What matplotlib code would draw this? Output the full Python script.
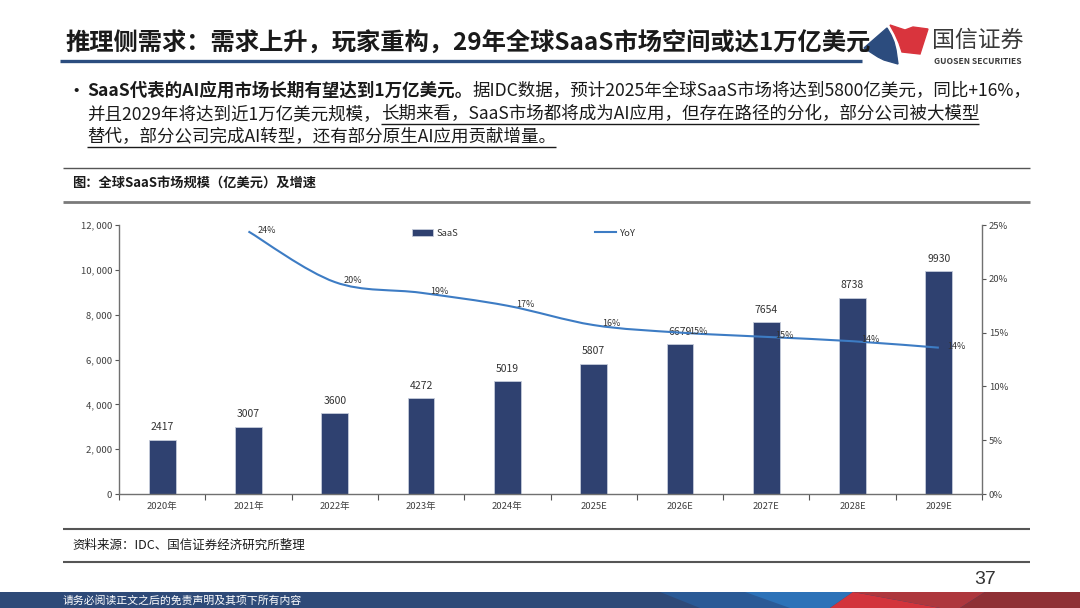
import matplotlib
matplotlib.use('Agg')
import matplotlib.pyplot as plt
from matplotlib.path import Path
from matplotlib.patches import PathPatch, Polygon, Rectangle, Patch
from matplotlib.lines import Line2D
import numpy as np

plt.rcParams['font.family'] = ['Noto Sans CJK SC', 'DejaVu Sans']

# ---------------- data ----------------
years = ['2020年', '2021年', '2022年', '2023年', '2024年',
         '2025E', '2026E', '2027E', '2028E', '2029E']
saas = [2417, 3007, 3600, 4272, 5019, 5807, 6679, 7654, 8738, 9930]
yoy_years = ['2021年', '2022年', '2023年', '2024年', '2025E',
             '2026E', '2027E', '2028E', '2029E']
yoy = [24.4, 19.7, 18.7, 17.5, 15.7, 15.0, 14.6, 14.2, 13.6]
yoy_labels = ['24%', '20%', '19%', '17%', '16%', '15%', '15%', '14%', '14%']
left_ticks = [0, 2000, 4000, 6000, 8000, 10000, 12000]
left_tick_labels = ['0', '2, 000', '4, 000', '6, 000', '8, 000', '10, 000', '12, 000']
right_ticks = [0, 5, 10, 15, 20, 25]
right_tick_labels = ['0%', '5%', '10%', '15%', '20%', '25%']

title = '推理侧需求：需求上升，玩家重构，29年全球SaaS市场空间或达1万亿美元'
body_lines = [
    [('SaaS代表的AI应用市场长期有望达到1万亿美元。', 'b'),
     ('据IDC数据，预计2025年全球SaaS市场将达到5800亿美元，同比+16%，', 'n')],
    [('并且2029年将达到近1万亿美元规模，', 'n'),
     ('长期来看，SaaS市场都将成为AI应用，但存在路径的分化，部分公司被大模型', 'u')],
    [('替代，部分公司完成AI转型，还有部分原生AI应用贡献增量。', 'u')],
]
chart_title = '图：全球SaaS市场规模（亿美元）及增速'
source = '资料来源：IDC、国信证券经济研究所整理'
footer = '请务必阅读正文之后的免责声明及其项下所有内容'
page_no = '37'

W, H = 1080, 608
fig = plt.figure(figsize=(W / 100, H / 100), dpi=100)
fig.patch.set_facecolor('white')


def fx(px):
    return px / W


def fy(py):
    return 1 - py / H


def hline(x0, x1, y, lw, color):
    fig.add_artist(Line2D([fx(x0), fx(x1)], [fy(y), fy(y)], lw=lw, color=color,
                          transform=fig.transFigure, solid_capstyle='butt'))


# ---------------- header ----------------
fig.text(fx(65), fy(43), title, fontsize=17.5, fontweight='bold', color='#1a1a1a',
         va='center', ha='left')
hline(60, 862, 61, 2.4, '#2B4D7F')

# logo
blue = Polygon([(fx(864), fy(48)), (fx(887), fy(28)), (fx(891), fy(35)),
                (fx(894), fy(42)), (fx(896), fy(50)), (fx(898), fy(64)),
                (fx(884), fy(60)), (fx(878), fy(57))],
               closed=True, transform=fig.transFigure, color='#2C4C7E')
red = Polygon([(fx(890), fy(25)), (fx(905), fy(30)), (fx(913), fy(27)),
               (fx(928), fy(29)), (fx(920), fy(54)), (fx(902), fy(52)),
               (fx(899), fy(43)), (fx(895), fy(34))],
              closed=True, transform=fig.transFigure, color='#D9343D')
fig.add_artist(blue)
fig.add_artist(red)
fig.text(fx(932), fy(40), '国信证券', fontsize=16.5, color='#3a3a3a', va='center', ha='left')
fig.text(fx(934), fy(61), 'GUOSEN SECURITIES', fontsize=6.1, fontweight='bold',
         color='#3a3a3a', va='center', ha='left')

# ---------------- body text ----------------
renderer = fig.canvas.get_renderer()
body_size = 12.6
line_y = [91, 114, 137]
fig.text(fx(66), fy(91), '•', fontsize=14, color='#1a1a1a', va='center', ha='left')
for segs, y in zip(body_lines, line_y):
    x = 87
    for txt, style in segs:
        t = fig.text(fx(x), fy(y), txt, fontsize=body_size,
                     fontweight='bold' if style == 'b' else 'normal',
                     color='#1a1a1a', va='center', ha='left')
        w = t.get_window_extent(renderer).width
        if style == 'u':
            hline(x, x + w, y + 10, 1.0, '#1a1a1a')
        x += w

# ---------------- chart frame ----------------
hline(63, 1030, 168, 1.0, '#555555')
fig.text(fx(72), fy(183), chart_title, fontsize=9.5, fontweight='bold', color='#1a1a1a',
         va='center', ha='left')
hline(63, 1030, 202, 2.0, '#7a7a7a')
hline(63, 1030, 529, 1.5, '#555555')
fig.text(fx(72), fy(545), source, fontsize=9, color='#1a1a1a', va='center', ha='left')
hline(63, 1030, 562, 1.5, '#555555')
fig.text(fx(985), fy(579), page_no, fontsize=14, color='#333333', va='center',
         ha='center', family='Liberation Sans')

# ---------------- footer ----------------
def fpoly(pts, color):
    fig.add_artist(Polygon([(fx(a), fy(b)) for a, b in pts], closed=True,
                           transform=fig.transFigure, color=color, lw=0))

fpoly([(0, 592), (W, 592), (W, H), (0, H)], '#2E4A78')
fpoly([(660, 592), (760, 592), (800, H), (700, H)], '#2A5A96')
fpoly([(745, 592), (853, 592), (830, H), (790, H)], '#2C72B8')
fpoly([(853, 592), (830, H), (940, H)], '#D2343C')
fpoly([(853, 592), (985, 592), (960, H), (940, H)], '#AD373D')
fpoly([(985, 592), (W, 592), (W, H), (960, H)], '#8F3035')
fig.text(fx(63), fy(600), footer, fontsize=7.8, color='white', va='center', ha='left')

# ---------------- chart ----------------
ax = fig.add_axes([fx(119), fy(494), fx(982) - fx(119), fy(225) - fy(494)])
x = np.arange(len(years))
bars = ax.bar(x, saas, width=0.31, color='#2F4170', edgecolor='#C5CCDA',
              linewidth=0.6, zorder=2, label='SaaS')
ax.bar_label(bars, labels=[str(v) for v in saas], padding=5.5, fontsize=7.5,
             color='#333333')
ax.set_xlim(-0.5, len(years) - 0.5)
ax.set_ylim(0, 12000)
ax.set_yticks(left_ticks)
ax.set_yticklabels(left_tick_labels, fontsize=6.8, color='#404040')
ax.set_xticks(np.arange(-0.5, len(years), 1.0))
ax.set_xticklabels([''] * (len(years) + 1))
ax.set_xticks(x, minor=True)
ax.set_xticklabels(years, minor=True, fontsize=6.8, color='#404040')
ax.tick_params(axis='x', which='major', length=4, width=0.8, color='#555555', direction='out')
ax.tick_params(axis='x', which='minor', length=0, pad=6)
ax.tick_params(axis='y', length=3, width=0.8, color='#555555', pad=2)
for s in ['top', 'right']:
    ax.spines[s].set_visible(False)
for s in ['left', 'bottom']:
    ax.spines[s].set_color('#707070')
    ax.spines[s].set_linewidth(1.0)

ax2 = ax.twinx()
ax2.set_ylim(0, 25)
ax2.set_yticks(right_ticks)
ax2.set_yticklabels(right_tick_labels, fontsize=6.8, color='#404040')
ax2.tick_params(axis='y', length=3, width=0.8, color='#555555', pad=2)
for s in ['top', 'left', 'bottom']:
    ax2.spines[s].set_visible(False)
ax2.spines['right'].set_color('#707070')
ax2.spines['right'].set_linewidth(1.0)

# smoothed YoY line (Catmull-Rom -> cubic Bezier through the data points)
xi = [years.index(y) for y in yoy_years]
pts = np.column_stack([xi, yoy]).astype(float)
ext = np.vstack([pts[0], pts, pts[-1]])
verts = [tuple(pts[0])]
codes = [Path.MOVETO]
for i in range(len(pts) - 1):
    p0, p1, p2, p3 = ext[i], ext[i + 1], ext[i + 2], ext[i + 3]
    c1 = p1 + (p2 - p0) / 6.0
    c2 = p2 - (p3 - p1) / 6.0
    verts += [tuple(c1), tuple(c2), tuple(p2)]
    codes += [Path.CURVE4] * 3
ax2.add_patch(PathPatch(Path(verts, codes), fill=False, edgecolor='#3D7CC4', lw=1.5,
                        zorder=3))
for xx, yy, lab in zip(xi, yoy, yoy_labels):
    ax2.annotate(lab, (xx, yy), xytext=(13, 1), textcoords='offset points',
                 ha='center', va='center', fontsize=6.5, color='#333333')

handles = [Patch(facecolor='#2F4170', edgecolor='#C5CCDA', linewidth=0.6),
           Line2D([0], [0], color='#3D7CC4', lw=1.5)]
fig.legend(handles, ['SaaS', 'YoY'], loc='center left', bbox_to_anchor=(fx(412), fy(233)),
           ncol=2, frameon=False, fontsize=6.8, handlelength=2.2, handleheight=0.7,
           handletextpad=0.4, columnspacing=14.5, borderpad=0, borderaxespad=0,
           labelcolor='#333333')

fig.savefig('out.png', dpi=100, facecolor='white')
